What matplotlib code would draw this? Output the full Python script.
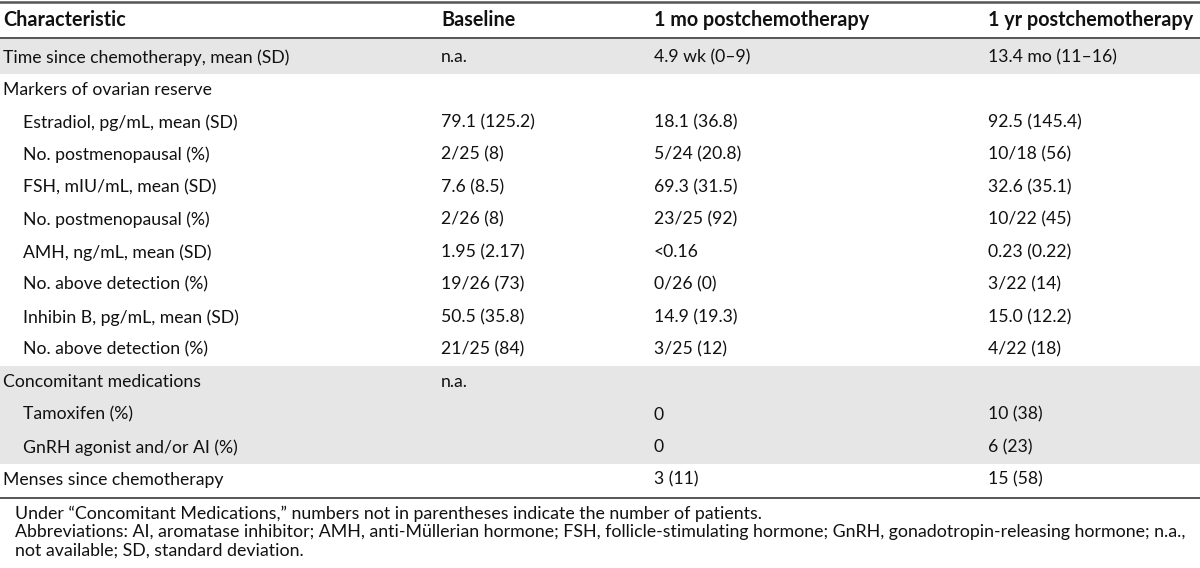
#
# table of ovarian reserve markers, drawn as a matplotlib figure
#

import matplotlib
matplotlib.use("Agg")
import matplotlib.pyplot as plt

plt.rcParams['font.family'] = ['Lato', 'DejaVu Sans']

# header and rows of the table
headers = ["Characteristic", "Baseline", "1 mo postchemotherapy", "1 yr postchemotherapy"]

labels = ["Time since chemotherapy, mean (SD)",
          "Markers of ovarian reserve",
          "Estradiol, pg/mL, mean (SD)",
          "No. postmenopausal (%)",
          "FSH, mIU/mL, mean (SD)",
          "No. postmenopausal (%)",
          "AMH, ng/mL, mean (SD)",
          "No. above detection (%)",
          "Inhibin B, pg/mL, mean (SD)",
          "No. above detection (%)",
          "Concomitant medications",
          "Tamoxifen (%)",
          "GnRH agonist and/or AI (%)",
          "Menses since chemotherapy"]
indented = [0, 0, 1, 1, 1, 1, 1, 1, 1, 1, 0, 1, 1, 0]
shaded = [1, 0, 0, 0, 0, 0, 0, 0, 0, 0, 1, 1, 1, 0]

baseline = ["n.a.", "", "79.1 (125.2)", "2/25 (8)", "7.6 (8.5)", "2/26 (8)",
            "1.95 (2.17)", "19/26 (73)", "50.5 (35.8)", "21/25 (84)", "n.a.", "", "", ""]
one_mo = ["4.9 wk (0\u20139)", "", "18.1 (36.8)", "5/24 (20.8)", "69.3 (31.5)", "23/25 (92)",
          "<0.16", "0/26 (0)", "14.9 (19.3)", "3/25 (12)", "", "0", "0", "3 (11)"]
one_yr = ["13.4 mo (11\u201316)", "", "92.5 (145.4)", "10/18 (56)", "32.6 (35.1)", "10/22 (45)",
          "0.23 (0.22)", "3/22 (14)", "15.0 (12.2)", "4/22 (18)", "", "10 (38)", "6 (23)", "15 (58)"]

footnotes = ["Under \u201cConcomitant Medications,\u201d numbers not in parentheses indicate the number of patients.",
             "Abbreviations: AI, aromatase inhibitor; AMH, anti-M\u00fcllerian hormone; FSH, follicle-stimulating hormone; GnRH, gonadotropin-releasing hormone; n.a.,",
             "not available; SD, standard deviation."]

# layout in pixels
W, H = 1200, 568
col_x = [3, 441, 654, 988]
indent_px = 20
row0 = 41.0
pitch = 32.5
fs_head = 14.2
fs = 12.7
fs_note = 12.8
txt = "#111111"
rule = "#555555"

fig = plt.figure(figsize=(W / 100, H / 100), dpi=100)
ax = fig.add_axes([0, 0, 1, 1])
ax.set_xlim(0, W)
ax.set_ylim(H, 0)
ax.axis("off")

# rules
ax.plot([0, W], [1.5, 1.5], color=rule, lw=1.8)
ax.plot([0, W], [37.5, 37.5], color=rule, lw=1.4)
bottom = row0 + pitch * len(labels)
ax.plot([0, W], [bottom + 2, bottom + 2], color=rule, lw=1.4)

# header
for x, h in zip(col_x, headers):
    ax.text(x, 20, h, fontsize=fs_head, fontweight="bold", color=txt, va="center", ha="left")

# body rows
for i, lab in enumerate(labels):
    top = row0 + i * pitch
    if shaded[i]:
        ax.add_patch(plt.Rectangle((0, top - (2 if i == 0 else 0)), W, pitch + (2 if i == 0 else 0),
                                   color="#e6e6e6", lw=0, zorder=0))
    yc = top + pitch / 2
    ax.text(col_x[0] + indent_px * indented[i], yc, lab, fontsize=fs, color=txt, va="center")
    for x, col in zip(col_x[1:], [baseline, one_mo, one_yr]):
        if col[i]:
            ax.text(x, yc, col[i], fontsize=fs, color=txt, va="center")

# footnotes
for j, note in enumerate(footnotes):
    ax.text(15, bottom + 18 + j * 18.5, note, fontsize=fs_note, color=txt, va="center")

fig.savefig("out.png", dpi=100)
